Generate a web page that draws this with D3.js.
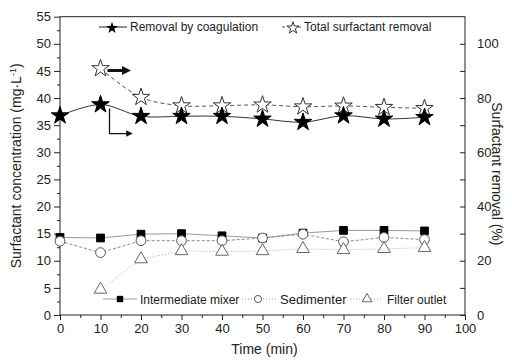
<!DOCTYPE html>
<html>
<head>
<meta charset="utf-8">
<script src="https://cdn.jsdelivr.net/npm/d3@7"></script>
<style>
  body { margin: 0; background: #fff; }
  text { font-family: "Liberation Sans", Arial, sans-serif; fill: #222; }
</style>
</head>
<body>
<svg id="chart" width="512" height="363"></svg>
<script>
// data
var times = [0, 10, 20, 30, 40, 50, 60, 70, 80, 90]
var coagulation = [73.5, 77.6, 73.3, 73.3, 73.3, 72.3, 71.1, 73.5, 72.3, 72.9]    // % (right axis)
var totalRemoval = [null, 90.9, 80.3, 77.2, 77.2, 77.5, 76.8, 77.1, 76.6, 76.2]   // % (right axis)
var mixer = [14.3, 14.2, 14.9, 15.0, 14.6, 14.2, 15.1, 15.6, 15.6, 15.5]         // mg/L
var sedimenter = [13.6, 11.5, 13.7, 13.7, 13.7, 14.2, 14.9, 13.5, 14.3, 13.9]
var filterOutlet = [null, 4.7, 10.3, 11.8, 11.7, 11.8, 12.2, 12.0, 12.2, 12.4]
var xTicks = [0, 10, 20, 30, 40, 50, 60, 70, 80, 90, 100]
var yLeftTicks = [0, 5, 10, 15, 20, 25, 30, 35, 40, 45, 50, 55]
var yRightTicks = [0, 20, 40, 60, 80, 100]

var svg = d3.select('#chart')
var plotLeft = 60, plotRight = 465, plotTop = 16.7, plotBottom = 315

var x = d3.scaleLinear().domain([0, 100]).range([plotLeft, plotRight])
var yL = d3.scaleLinear().domain([0, 55]).range([plotBottom, plotTop])
var yR = d3.scaleLinear().domain([0, 110]).range([plotBottom, plotTop])

// frame
svg.append('rect')
  .attr('x', plotLeft).attr('y', plotTop)
  .attr('width', plotRight - plotLeft).attr('height', plotBottom - plotTop)
  .attr('fill', 'none').attr('stroke', '#222').attr('stroke-width', 1)

function styleAxis (g) {
  g.selectAll('.domain').remove()
  g.selectAll('line').attr('stroke', '#222')
  g.selectAll('text').style('font-size', '13px').attr('fill', '#222')
}

// bottom axis
var gx = svg.append('g').attr('transform', 'translate(0,' + plotBottom + ')')
  .call(d3.axisBottom(x).tickValues(xTicks).tickSize(5).tickPadding(4))
gx.append('g').call(d3.axisBottom(x).tickValues(d3.range(5, 100, 10)).tickSize(3).tickFormat(''))
styleAxis(gx)

// left axis
var gl = svg.append('g').attr('transform', 'translate(' + plotLeft + ',0)')
  .call(d3.axisLeft(yL).tickValues(yLeftTicks).tickSize(6).tickPadding(3))
gl.append('g').call(d3.axisLeft(yL).tickValues(d3.range(2.5, 55, 5)).tickSize(3).tickFormat(''))
styleAxis(gl)

// right axis (ticks inside)
var gr = svg.append('g').attr('transform', 'translate(' + plotRight + ',0)')
  .call(d3.axisRight(yR).tickValues(yRightTicks).tickSize(-5).tickPadding(12))
gr.append('g').call(d3.axisRight(yR).tickValues(d3.range(10, 110, 20)).tickSize(-5).tickFormat(''))
styleAxis(gr)

// axis titles
svg.append('text').attr('x', (plotLeft + plotRight) / 2 + 2).attr('y', 354)
  .attr('text-anchor', 'middle').style('font-size', '14px').text('Time (min)')

var lt = svg.append('text')
  .attr('transform', 'translate(21,' + ((plotTop + plotBottom) / 2) + ') rotate(-90)')
  .attr('text-anchor', 'middle').style('font-size', '14px')
lt.append('tspan').text('Surfactant concentration (mg·L')
lt.append('tspan').attr('dy', -5).style('font-size', '9px').text('-1')
lt.append('tspan').attr('dy', 5).text(')')

svg.append('text')
  .attr('transform', 'translate(492,' + ((plotTop + plotBottom) / 2 + 8) + ') rotate(90)')
  .attr('text-anchor', 'middle').style('font-size', '14px').text('Surfactant removal (%)')

function pts (vals) {
  return times.map(function (t, i) { return [t, vals[i]] }).filter(function (d) { return d[1] !== null })
}

// lower series (straight segments)
var lineL = d3.line().x(function (d) { return x(d[0]) }).y(function (d) { return yL(d[1]) })
svg.append('path').datum(pts(mixer)).attr('d', lineL)
  .attr('fill', 'none').attr('stroke', '#999').attr('stroke-width', 1)
svg.append('path').datum(pts(sedimenter)).attr('d', lineL)
  .attr('fill', 'none').attr('stroke', '#888').attr('stroke-width', 1).attr('stroke-dasharray', '3,2')
svg.append('path').datum(pts(filterOutlet)).attr('d', lineL)
  .attr('fill', 'none').attr('stroke', '#aaa').attr('stroke-width', 1).attr('stroke-dasharray', '1,2')

// upper series (smoothed)
var lineR = d3.line().curve(d3.curveCatmullRom)
  .x(function (d) { return x(d[0]) }).y(function (d) { return yR(d[1]) })
svg.append('path').datum(pts(coagulation)).attr('d', lineR)
  .attr('fill', 'none').attr('stroke', '#333').attr('stroke-width', 1)
svg.append('path').datum(pts(totalRemoval)).attr('d', lineR)
  .attr('fill', 'none').attr('stroke', '#555').attr('stroke-width', 1).attr('stroke-dasharray', '4,3')

var star = d3.symbol().type(d3.symbolStar).size(95)
var square = d3.symbol().type(d3.symbolSquare).size(60)
var circle = d3.symbol().type(d3.symbolCircle).size(75)
var tri = d3.symbol().type(d3.symbolTriangle).size(70)

function markers (data, sym, ys, fill, stroke) {
  svg.append('g').selectAll('path').data(data).enter().append('path')
    .attr('d', sym)
    .attr('transform', function (d) { return 'translate(' + x(d[0]) + ',' + ys(d[1]) + ')' })
    .attr('fill', fill).attr('stroke', stroke).attr('stroke-width', 1)
}

markers(pts(mixer), square, yL, '#000', '#000')
markers(pts(sedimenter), circle, yL, '#fff', '#555')
markers(pts(filterOutlet), tri, yL, '#fff', '#666')
markers(pts(totalRemoval), star, yR, '#fff', '#333')
markers(pts(coagulation), star, yR, '#000', '#000')

// arrows
var defs = svg.append('defs')
defs.append('marker').attr('id', 'headThick').attr('viewBox', '0 0 10 10')
  .attr('refX', 5).attr('refY', 5).attr('markerWidth', 3).attr('markerHeight', 3)
  .attr('orient', 'auto')
  .append('path').attr('d', 'M0,0 L10,5 L0,10 Z').attr('fill', '#111')
defs.append('marker').attr('id', 'headThin').attr('viewBox', '0 0 10 10')
  .attr('refX', 5).attr('refY', 5).attr('markerWidth', 5).attr('markerHeight', 5)
  .attr('orient', 'auto')
  .append('path').attr('d', 'M0,0 L10,5 L0,10 Z').attr('fill', '#111')

svg.append('line')
  .attr('x1', x(10) + 7).attr('y1', yR(totalRemoval[1]) + 2)
  .attr('x2', x(10) + 26).attr('y2', yR(totalRemoval[1]) + 2)
  .attr('stroke', '#111').attr('stroke-width', 3).attr('marker-end', 'url(#headThick)')

svg.append('path')
  .attr('d', 'M' + (x(10) + 9) + ',' + (yR(coagulation[1]) + 4) +
    ' V' + (yR(coagulation[1]) + 29) + ' H' + (x(10) + 29))
  .attr('fill', 'none').attr('stroke', '#111').attr('stroke-width', 1.3)
  .attr('marker-end', 'url(#headThin)')

// top legend
var leg1 = svg.append('g')
leg1.append('line').attr('x1', 99).attr('x2', 127).attr('y1', 27).attr('y2', 27).attr('stroke', '#222')
leg1.append('path').attr('d', d3.symbol().type(d3.symbolStar).size(45))
  .attr('transform', 'translate(112,28)').attr('fill', '#000')
leg1.append('text').attr('x', 130).attr('y', 31).style('font-size', '12px').text('Removal by coagulation')

leg1.append('line').attr('x1', 282).attr('x2', 303).attr('y1', 27).attr('y2', 27)
  .attr('stroke', '#555').attr('stroke-dasharray', '3,5')
leg1.append('path').attr('d', d3.symbol().type(d3.symbolStar).size(45))
  .attr('transform', 'translate(293,28)').attr('fill', '#fff').attr('stroke', '#333')
leg1.append('text').attr('x', 304).attr('y', 31).style('font-size', '12px').text('Total surfactant removal')

// bottom legend
var leg2 = svg.append('g')
leg2.append('line').attr('x1', 103).attr('x2', 137).attr('y1', 299).attr('y2', 299).attr('stroke', '#999')
leg2.append('path').attr('d', d3.symbol().type(d3.symbolSquare).size(40))
  .attr('transform', 'translate(120,299)').attr('fill', '#000')
leg2.append('text').attr('x', 140).attr('y', 304).style('font-size', '12px').text('Intermediate mixer')

leg2.append('line').attr('x1', 242).attr('x2', 277).attr('y1', 299).attr('y2', 299)
  .attr('stroke', '#999').attr('stroke-dasharray', '1,2')
leg2.append('path').attr('d', d3.symbol().type(d3.symbolCircle).size(40))
  .attr('transform', 'translate(258,299)').attr('fill', '#fff').attr('stroke', '#555')
leg2.append('text').attr('x', 280).attr('y', 304).style('font-size', '13px').text('Sedimenter')

leg2.append('line').attr('x1', 350).attr('x2', 383).attr('y1', 299).attr('y2', 299)
  .attr('stroke', '#aaa').attr('stroke-dasharray', '1,2')
leg2.append('path').attr('d', d3.symbol().type(d3.symbolTriangle).size(40))
  .attr('transform', 'translate(367,299)').attr('fill', '#fff').attr('stroke', '#666')
leg2.append('text').attr('x', 387).attr('y', 304).style('font-size', '12px').text('Filter outlet')
</script>
</body>
</html>
